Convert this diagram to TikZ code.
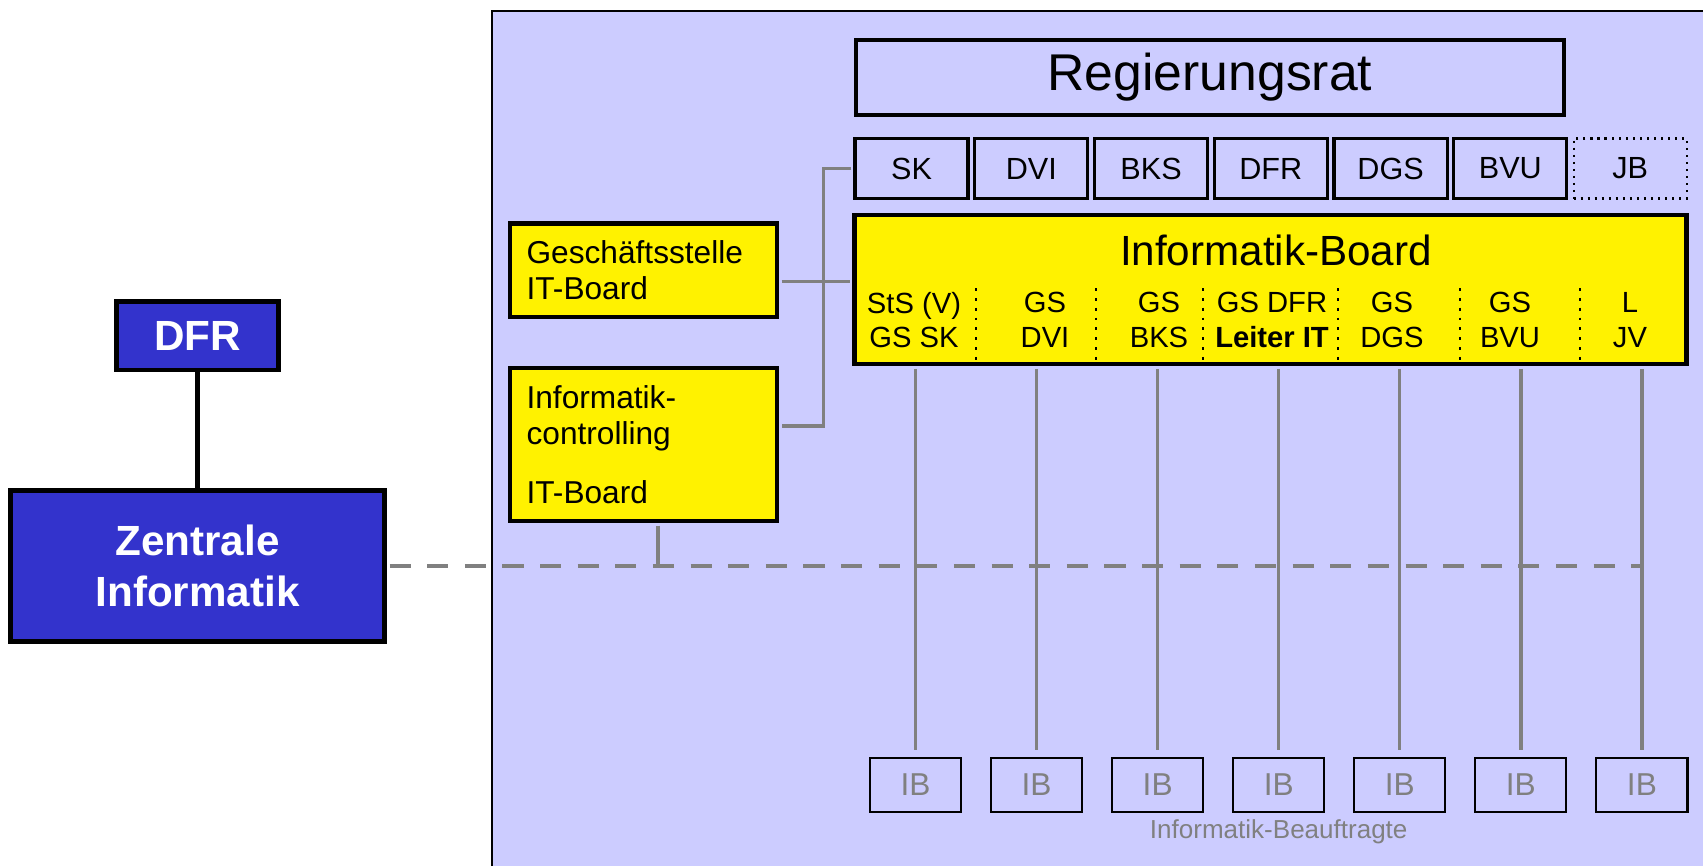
\documentclass[tikz,border=0pt]{standalone}
\usepackage{fontspec}
\setmainfont{Liberation Sans}
\usepackage{xcolor}
\usepackage{tikz}
\usetikzlibrary{positioning}

\definecolor{panelblue}{HTML}{CCCCFF}
\definecolor{unitblue}{HTML}{3333CC}
\definecolor{linegray}{HTML}{808080}

\begin{document}
\begin{tikzpicture}[x=0.01cm,y=-0.01cm,node distance=1.197cm,on grid,inner sep=0pt,
    dept/.style={draw, line width=0.9pt, minimum width=1.13cm, minimum height=0.6cm, font=\fontsize{8.7}{10}\selectfont},
    unit/.style={draw, fill=unitblue, line width=1.4pt, text=white, align=center, font=\bfseries\fontsize{12}{14.6}\selectfont},
    office/.style={draw, fill=yellow, line width=1.33pt, minimum width=2.67cm, text width=2.337cm, inner xsep=0.167cm, align=left, font=\fontsize{9}{10.4}\selectfont},
    member/.style={align=center, font=\fontsize{8.3}{9.8}\selectfont},
    ib/.style={draw, line width=0.6pt, minimum width=0.91cm, minimum height=0.54cm, text=linegray, font=\fontsize{9}{10}\selectfont},
    gline/.style={draw=linegray, line width=0.95pt, shorten <=0.6pt, shorten >=0.6pt},
    dline/.style={draw=linegray, line width=1.2pt, dash pattern=on 6pt off 4.7pt, shorten <=0.7pt}]
        \useasboundingbox (0,0) rectangle (1703,866);
        \fill[panelblue] (492,11) rectangle (1703,866);
        \draw[line width=0.5pt] (492,866) |- (1703,11);

        \node[draw, line width=1.2pt, minimum width=7.08cm, minimum height=0.744cm,
              font=\fontsize{14.7}{16}\selectfont] (rr) at (1210,77.5) {Regierungsrat};

        \node[dept]         (d_1) at (911.5,168.5) {SK};
        \node[dept]         (d_2) [right=of d_1]   {DVI};
        \node[dept]         (d_3) [right=of d_2]   {BKS};
        \node[dept]         (d_4) [right=of d_3]   {DFR};
        \node[dept]         (d_5) [right=of d_4]   {DGS};
        \node[dept]         (d_6) [right=of d_5]   {BVU};
        \node[dept, line width=0.6pt, dash pattern=on 0.6pt off 1.4pt] (d_7) [right=of d_6] {JB};

        \node[draw, fill=yellow, line width=1.33pt, minimum width=8.32cm, minimum height=1.49cm] (board) at (1270.5,289.5) {};
        \node[font=\fontsize{12}{14}\selectfont] (board_t) at (1276,250) {Informatik-Board};
        \node[member] (m_1) at (914,320)  {StS (V)\\GS SK};
        \node[member] (m_2) at (1045,320) {GS\\DVI};
        \node[member] (m_3) at (1159,320) {GS\\BKS};
        \node[member] (m_4) at (1272,320) {GS DFR\\\textbf{Leiter IT}};
        \node[member] (m_5) at (1392,320) {GS\\DGS};
        \node[member] (m_6) at (1510,320) {GS\\BVU};
        \node[member] (m_7) at (1630,320) {L\\JV};
        \draw[dotted, line width=0.8pt] (976,288) -- (976,360) (1096,288) -- (1096,360) (1203,288) -- (1203,360)
            (1338,288) -- (1338,360) (1460,288) -- (1460,360) (1580,288) -- (1580,360);

        \node[office, minimum height=0.935cm] (gst)  at (643.5,270.2) {Geschäftsstelle\\IT-Board};
        \node[office, minimum height=1.53cm]  (ictl) at (643.5,444.5) {Informatik-\\controlling\\[6.2pt]IT-Board};

        \node[unit, minimum width=1.62cm, minimum height=0.685cm] (dfr) at (197.5,335.7) {DFR};
        \node[unit, minimum width=3.74cm, minimum height=1.51cm]  (zi)  at (197.5,566)   {Zentrale\\Informatik};

        \node[ib] (ib_1) at (915.5,785)         {IB};
        \node[ib] (ib_2) [right=1.21cm of ib_1] {IB};
        \node[ib] (ib_3) [right=1.21cm of ib_2] {IB};
        \node[ib] (ib_4) [right=1.21cm of ib_3] {IB};
        \node[ib] (ib_5) [right=1.21cm of ib_4] {IB};
        \node[ib] (ib_6) [right=1.21cm of ib_5] {IB};
        \node[ib] (ib_7) [right=1.21cm of ib_6] {IB};
        \node[text=linegray, font=\fontsize{7.4}{9}\selectfont] (ib_t) [below=0.47cm of ib_4] {Informatik-Beauftragte};

        \coordinate (gst_r)  at ([yshift=-3.13pt]gst.east);
        \coordinate (ictl_r) at ([yshift=5.26pt]ictl.east);
        \coordinate (ictl_b) at ([xshift=4.13pt]ictl.south);

        \draw[line width=1.4pt] (dfr) -- (zi);
        \draw[dline] (zi.east) -- (zi.east -| ib_7);
        \draw[gline, shorten >=0pt] (ictl_b) -- (ictl_b |- zi.east);
        \draw[gline] (gst_r) -- (gst_r -| board.west);
        \draw[gline] (d_1.west) -- ++(-30,0) |- (ictl_r);
        \path[gline, shorten <=0.7pt, shorten >=2pt]
        (board.south -| ib_1) edge (ib_1)
        (board.south -| ib_2) edge (ib_2)
        (board.south -| ib_3) edge (ib_3)
        (board.south -| ib_4) edge (ib_4)
        (board.south -| ib_5) edge (ib_5)
        (board.south -| ib_6) edge (ib_6)
        (board.south -| ib_7) edge (ib_7);
      \end{tikzpicture}
\end{document}
